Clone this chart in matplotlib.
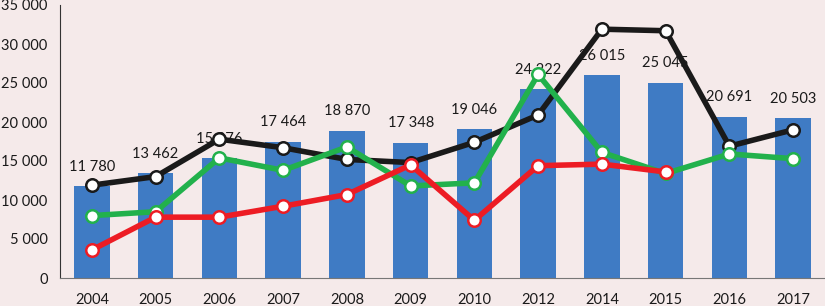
import matplotlib.pyplot as plt
import numpy as np

years = ['2004', '2005', '2006', '2007', '2008', '2009', '2010', '2012', '2014', '2015', '2016', '2017']
bar_values = [11780, 13462, 15376, 17464, 18870, 17348, 19046, 24222, 26015, 25045, 20691, 20503]
black_values = [11900, 13000, 17800, 16700, 15200, 14800, 17400, 20900, 31900, 31700, 16900, 19000]
green_values = [8000, 8500, 15400, 13800, 16800, 11800, 12200, 26100, 16100, 13400, 15900, 15300]
red_values = [3600, 7800, 7800, 9200, 10700, 14500, 7400, 14400, 14600, 13600]

bg = '#f5eaea'
plt.rcParams['font.family'] = ['Lato', 'DejaVu Sans']

fig = plt.figure(figsize=(8.25, 3.06), dpi=100, facecolor=bg)
ax = fig.add_axes([60 / 825, 28 / 306, 765 / 825, 273 / 306])
ax.set_facecolor(bg)

x = np.arange(len(years))
ax.bar(x, bar_values, width=0.56, color='#3f7bc4', zorder=1)

''' value labels above the bars '''
for xi, v in zip(x, bar_values):
    lab = f'{v:,}'.replace(',', ' ')
    ax.annotate(lab, (xi, v), xytext=(0, 14), textcoords='offset points',
                ha='center', va='center', fontsize=10.5, color='#1a1a1a')

mk = dict(marker='o', markersize=9, markerfacecolor='white', markeredgewidth=1.8)
ax.plot(x, black_values, color='#1a1a1a', lw=4, markeredgecolor='#1a1a1a', zorder=3, **mk)
ax.plot(x, green_values, color='#22b14c', lw=4, markeredgecolor='#22b14c', zorder=4, **mk)
ax.plot(x[:len(red_values)], red_values, color='#ed1c24', lw=4, markeredgecolor='#ed1c24', zorder=5, **mk)

ax.set_xlim(-0.5, len(years) - 0.5)
ax.set_ylim(0, 35000)
ax.set_yticks(range(0, 35001, 5000))
ax.set_yticklabels([f'{t:,}'.replace(',', ' ') for t in range(0, 35001, 5000)])
ax.set_xticks(x)
ax.set_xticklabels(years)
ax.tick_params(axis='both', length=0, labelsize=10.5, colors='#1a1a1a')
ax.tick_params(axis='y', pad=9)
ax.tick_params(axis='x', pad=11)

for s in ['top', 'right']:
    ax.spines[s].set_visible(False)
ax.spines['left'].set_color('#333333')
ax.spines['bottom'].set_color('#777777')

fig.savefig('out.png', dpi=100, facecolor=bg)
